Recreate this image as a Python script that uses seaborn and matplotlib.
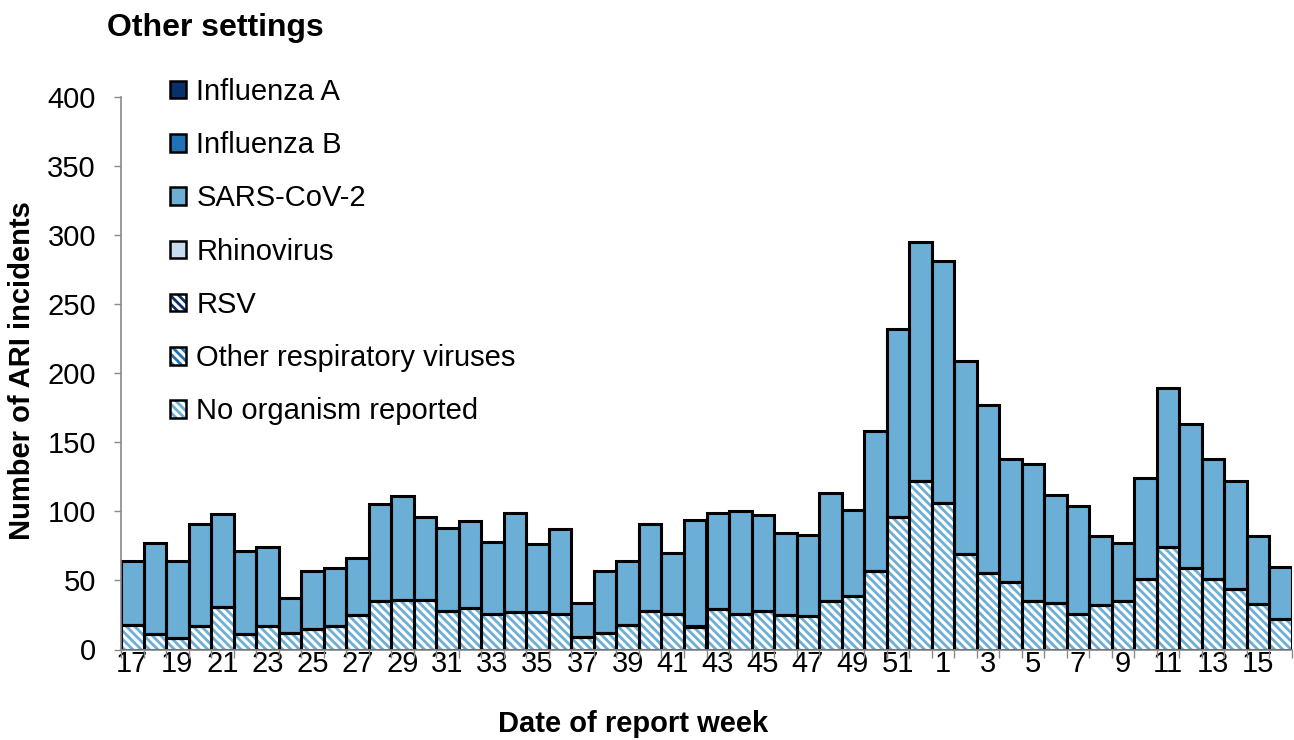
import numpy as np
import pandas as pd
import matplotlib
matplotlib.use("Agg")
import matplotlib.pyplot as plt
import seaborn as sns
from matplotlib.patches import Patch
from matplotlib.legend_handler import HandlerTuple

# ---------------- data ----------------
weeks = [str(w) for w in list(range(17, 53)) + list(range(1, 17))]

no_organism = [18, 11, 8, 17, 31, 11, 17, 12, 15, 17,
               25, 35, 36, 36, 28, 30, 26, 27, 27, 26,
               9, 12, 18, 28, 26, 16, 29, 26, 28, 25,
               24, 35, 39, 57, 96, 122,
               106, 69, 55, 49, 35, 34, 26, 32, 35, 51,
               74, 59, 51, 44, 33, 22]
other_resp = [0] * 25 + [1] + [0] * 26
rsv = [0] * 52
rhinovirus = [0] * 52
sars_cov2 = [46, 66, 56, 74, 67, 60, 57, 25, 42, 42,
             41, 70, 75, 60, 60, 63, 52, 72, 49, 61,
             25, 45, 46, 63, 44, 77, 70, 74, 69, 59,
             59, 78, 62, 101, 136, 173,
             175, 140, 122, 89, 99, 78, 78, 50, 42, 73,
             115, 104, 87, 78, 49, 38]
influenza_b = [0] * 52
influenza_a = [0] * 52

# (label, values, colour, hatched) in stacking order, bottom first
series = [
    ("No organism reported", no_organism, "#6BAED6", True),
    ("Other respiratory viruses", other_resp, "#2171B5", True),
    ("RSV", rsv, "#08306B", True),
    ("Rhinovirus", rhinovirus, "#C6DBEF", False),
    ("SARS-CoV-2", sars_cov2, "#6BAED6", False),
    ("Influenza B", influenza_b, "#2171B5", False),
    ("Influenza A", influenza_a, "#08306B", False),
]

df = pd.DataFrame({"week": weeks})
for name, vals, _, _ in series:
    df[name] = vals

# ---------------- style ----------------
sns.set_style("white")
plt.rcParams["font.family"] = ["Liberation Sans", "DejaVu Sans"]
plt.rcParams["text.color"] = "black"
plt.rcParams["axes.labelcolor"] = "black"
plt.rcParams["xtick.color"] = "black"
plt.rcParams["ytick.color"] = "black"
plt.rcParams["hatch.linewidth"] = 2.0

W, H = 1294, 740
fig = plt.figure(figsize=(W / 100, H / 100), dpi=100)
x0, x1, ytop, ybot = 121, 1292, 96.7, 649.5
ax = fig.add_axes([x0 / W, 1 - ybot / H, (x1 - x0) / W, (ybot - ytop) / H])

HATCH = "\\\\\\\\"
bottom = np.zeros(len(weeks))
bottoms = []
for name, vals, col, hatched in series:
    bottoms.append(bottom.copy())
    sns.barplot(data=df, x="week", y=name, order=weeks, errorbar=None,
                width=1, saturation=1, color="white" if hatched else col,
                bottom=bottom.copy(), ax=ax)
    for p in ax.containers[-1]:
        if hatched:
            p.set_facecolor("white")
            p.set_edgecolor(col)
            p.set_hatch(HATCH)
        else:
            p.set_facecolor(col)
            p.set_edgecolor("none")
        p.set_linewidth(0)
    bottom = bottom + np.asarray(vals, dtype=float)

# black outlines on top
for (name, vals, col, hatched), b in zip(series, bottoms):
    if not any(vals):
        continue
    sns.barplot(data=df, x="week", y=name, order=weeks, errorbar=None,
                width=1, saturation=1, color="black", fill=False,
                bottom=b, ax=ax)
    for p in ax.containers[-1]:
        p.set_facecolor("none")
        p.set_edgecolor("black")
        p.set_linewidth(2.2)

# ---------------- axes ----------------
grey = "#898989"
ax.set_ylim(0, 400)
ax.set_xlim(-0.5, len(weeks) - 0.5)
ax.set_yticks(range(0, 401, 50))
ax.set_xticks(range(0, len(weeks), 2))
ax.set_xticklabels(weeks[::2])
ax.set_xticks(np.arange(-0.5, len(weeks), 1), minor=True)
ax.tick_params(axis="y", labelsize=21, length=5, width=1, color=grey,
               pad=13, left=True, labelcolor="black")
ax.tick_params(axis="x", which="major", labelsize=21, length=0, pad=0,
               bottom=True, labelcolor="black")
ax.tick_params(axis="x", which="minor", length=6, width=1, color=grey,
               bottom=True)
for s in ["top", "right"]:
    ax.spines[s].set_visible(False)
for s in ["left", "bottom"]:
    ax.spines[s].set_color(grey)
    ax.spines[s].set_linewidth(1.2)
ax.set_xlabel("")
ax.set_ylabel("")
ax.grid(False)

fig.text(107 / W, 1 - 28 / H, "Other settings", fontsize=23,
         fontweight="bold", ha="left", va="center", color="black")
fig.text(22 / W, 1 - 371 / H, "Number of ARI incidents", fontsize=21,
         fontweight="bold", rotation=90, ha="center", va="center",
         color="black")
fig.text(633 / W, 1 - 724 / H, "Date of report week", fontsize=21,
         fontweight="bold", ha="center", va="center", color="black")

# ---------------- legend ----------------
handles, labels = [], []
for name, vals, col, hatched in reversed(series):
    if hatched:
        f = Patch(facecolor="white", edgecolor=col, hatch=HATCH, linewidth=0)
    else:
        f = Patch(facecolor=col, edgecolor="none", linewidth=0)
    o = Patch(facecolor="none", edgecolor="black", linewidth=1.8)
    handles.append((f, o))
    labels.append(name)
leg = ax.legend(handles, labels, loc="upper left",
                bbox_to_anchor=(170 / W, 1 - 78 / H),
                bbox_transform=fig.transFigure,
                frameon=False, fontsize=21, handlelength=0.55,
                handleheight=0.55, handletextpad=0.35, labelspacing=0.865,
                borderpad=0, borderaxespad=0,
                handler_map={tuple: HandlerTuple(ndivide=1, pad=0)})
for t in leg.get_texts():
    t.set_color("black")

fig.savefig("out.png", dpi=100)
